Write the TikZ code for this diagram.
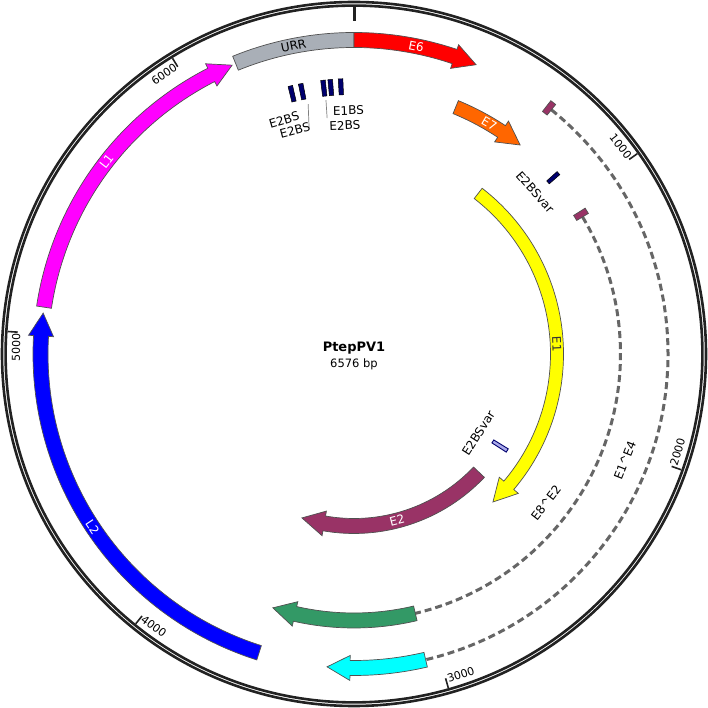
\documentclass[tikz,border=0pt]{standalone}
\usepackage{fontspec}
\setmainfont{DejaVu Sans}
\definecolor{urrc}{RGB}{169,175,183}
\definecolor{e6c}{RGB}{255,0,0}
\definecolor{e7c}{RGB}{255,102,0}
\definecolor{e1c}{RGB}{255,255,0}
\definecolor{e2c}{RGB}{153,51,102}
\definecolor{grnc}{RGB}{51,153,102}
\definecolor{cync}{RGB}{0,255,255}
\definecolor{magc}{RGB}{255,0,255}
\definecolor{bluc}{RGB}{0,0,255}
\definecolor{navyc}{RGB}{0,0,110}
\definecolor{ringc}{RGB}{34,34,34}
\definecolor{dashc}{RGB}{102,102,102}
\definecolor{outlc}{RGB}{80,80,80}
\definecolor{lightbl}{RGB}{170,170,235}
% arrow along the circle: start bp, tip bp, radius, half width, fill
\newcommand{\featarrow}[5]{%
\pgfmathsetmacro\qa{90-#1/6576*360}%
\pgfmathsetmacro\qt{90-#2/6576*360}%
\pgfmathsetmacro\qb{\qt+23/#3*180/pi}%
\pgfmathsetmacro\qro{#3+#4}%
\pgfmathsetmacro\qri{#3-#4}%
\pgfmathsetmacro\qho{#3+12.5}%
\pgfmathsetmacro\qhi{#3-12.5}%
\filldraw[feat,fill=#5] (\qa:\qro pt) arc[start angle=\qa,end angle=\qb,radius=\qro pt] -- (\qb:\qho pt) -- (\qt:#3pt) -- (\qb:\qhi pt) -- (\qb:\qri pt) arc[start angle=\qb,end angle=\qa,radius=\qri pt] -- cycle;}
% box between two angles: a1, a2, radius, half width, style
\newcommand{\angbox}[5]{%
\pgfmathsetmacro\qro{#3+#4}%
\pgfmathsetmacro\qri{#3-#4}%
\filldraw[#5] (#1:\qro pt) arc[start angle=#1,end angle=#2,radius=\qro pt] -- (#2:\qri pt) arc[start angle=#2,end angle=#1,radius=\qri pt] -- cycle;}
\tikzset{
  feat/.style={draw=outlc,line width=0.7pt},
  flabel/.style={font=\fontsize{12}{14}\selectfont,inner sep=0pt},
  ticklab/.style={font=\fontsize{11}{13}\selectfont,inner sep=0pt},
  intron/.style={draw=dashc,line width=3pt,dash pattern=on 7pt off 4pt},
  ringline/.style={draw=ringc,line width=2.6pt},
  tickline/.style={draw=ringc,line width=1.6pt},
  leader/.style={draw=gray,line width=0.7pt},
  bsbar/.style={draw=black,fill=navyc,line width=0.5pt},
  exonbox/.style={draw=outlc,fill=e2c,line width=0.7pt}
}
\begin{document}
\begin{tikzpicture}[x=1pt,y=1pt]
\useasboundingbox (-354,-354) rectangle (354,354);
\fill[white] (-354,-354) rectangle (354,354);
% outer ring
\draw[ringline] (0,0) circle[radius=352pt];
\draw[ringline] (0,0) circle[radius=348.4pt];
\draw[draw=ringc,line width=3pt] (90:333pt) -- (90:347pt);
\foreach \p in {1000,2000,3000,4000,5000,6000}{%
  \pgfmathsetmacro\ta{90-\p/6576*360}%
  \draw[tickline] (\ta:337pt) -- (\ta:347pt);}
\node[ticklab,rotate=-52.19] (t1) at (37.91:338pt) {1000};
\node[ticklab,rotate=73.06] (t2) at (-16.84:338pt) {2000};
\node[ticklab,rotate=18.32] (t3) at (-71.58:338pt) {3000};
\node[ticklab,rotate=-36.43] (t4) at (-126.33:338pt) {4000};
\node[ticklab,rotate=88.83] (t5) at (178.93:338pt) {5000};
\node[ticklab,rotate=34.08] (t6) at (124.18:338pt) {6000};
% introns
\draw[intron] (51.05:314pt) arc[start angle=51.05,end angle=-76.81,radius=314pt];
\draw[intron] (30.95:266.5pt) arc[start angle=30.95,end angle=-76.70,radius=266.5pt];
% track 1
\angbox{-247.83}{-270}{314}{7.5}{feat,fill=urrc}
\featarrow{0}{418}{314}{7.5}{e6c}
\featarrow{5089}{6158}{313.5}{7.5}{magc}
\featarrow{3610}{5069}{313.5}{7.5}{bluc}
\featarrow{3047}{3378}{314}{7.5}{cync}
\angbox{52.15}{51.05}{314}{6.8}{exonbox}
% track 2
\featarrow{409}{703}{267}{7}{e7c}
\featarrow{3045}{3612}{266.5}{7.5}{grnc}
\angbox{32.25}{30.95}{266.5}{6.8}{exonbox}
\foreach \c in {103.37,101.16,96.47,94.96,92.8}{%
  \pgfmathsetmacro\ca{\c+0.48}\pgfmathsetmacro\cb{\c-0.48}%
  \angbox{\ca}{\cb}{267.5}{8}{bsbar}}
\angbox{41.93}{41.07}{266}{7}{bsbar}
% track 3
\featarrow{689}{2499}{203}{6.5}{e1c}
% track 4
\featarrow{2437}{3610}{172}{7.5}{e2c}
\angbox{-31.6}{-32.8}{172.6}{8.5}{draw=navyc,fill=lightbl,line width=0.9pt}
% feature labels
\node[flabel,rotate=11.09] (lurr) at (101.09:314pt) {URR};
\node[flabel,text=white,rotate=-11.44] (le6) at (78.56:314pt) {E6};
\node[flabel,text=white,rotate=-30.44] (le7) at (59.56:267pt) {E7};
\node[flabel,text=black!80,rotate=-87.26] (le1) at (2.74:203pt) {E1};
\node[flabel,text=white,rotate=14.51] (le2) at (-75.49:172pt) {E2};
\node[flabel,text=white,rotate=52.14] (ll1) at (142.14:313.5pt) {L1};
\node[flabel,text=white,rotate=-56.5] (ll2) at (-146.5:313.5pt) {L2};
% site labels
\node[flabel,rotate=16.6] (bs1) at (106.65:244.2pt) {E2BS};
\node[flabel,rotate=14.75] (bs2) at (104.75:231.6pt) {E2BS};
\node[flabel,rotate=1.3] (bs3) at (91.3:243.6pt) {E1BS};
\node[flabel,rotate=2.3] (bs4) at (92.3:228.7pt) {E2BS};
\coordinate (la1) at (100.4:254pt);
\coordinate (lb1) at (101.2:231.5pt);
\coordinate (la2) at (96.3:255.5pt);
\coordinate (lb2) at (96.5:237.5pt);
\draw[leader] (la1) -- (lb1);
\draw[leader] (la2) -- (lb2);
\node[flabel,rotate=-48.2] (bv1) at (41.8:243pt) {E2BSvar};
\node[flabel,rotate=57.5] (bv2) at (-32.5:147.5pt) {E2BSvar};
\node[flabel,rotate=52.2] (le8e2) at (-37.8:243pt) {E8\textasciicircum E2};
\node[flabel,rotate=68.6] (le1e4) at (-21.4:291pt) {E1\textasciicircum E4};
% centre
\node[font=\bfseries\fontsize{13}{15}\selectfont,inner sep=0pt] (title) at (0,6) {PtepPV1};
\node[font=\fontsize{11.5}{13}\selectfont,inner sep=0pt] (size) at (0,-10) {6576 bp};
\end{tikzpicture}
\end{document}
